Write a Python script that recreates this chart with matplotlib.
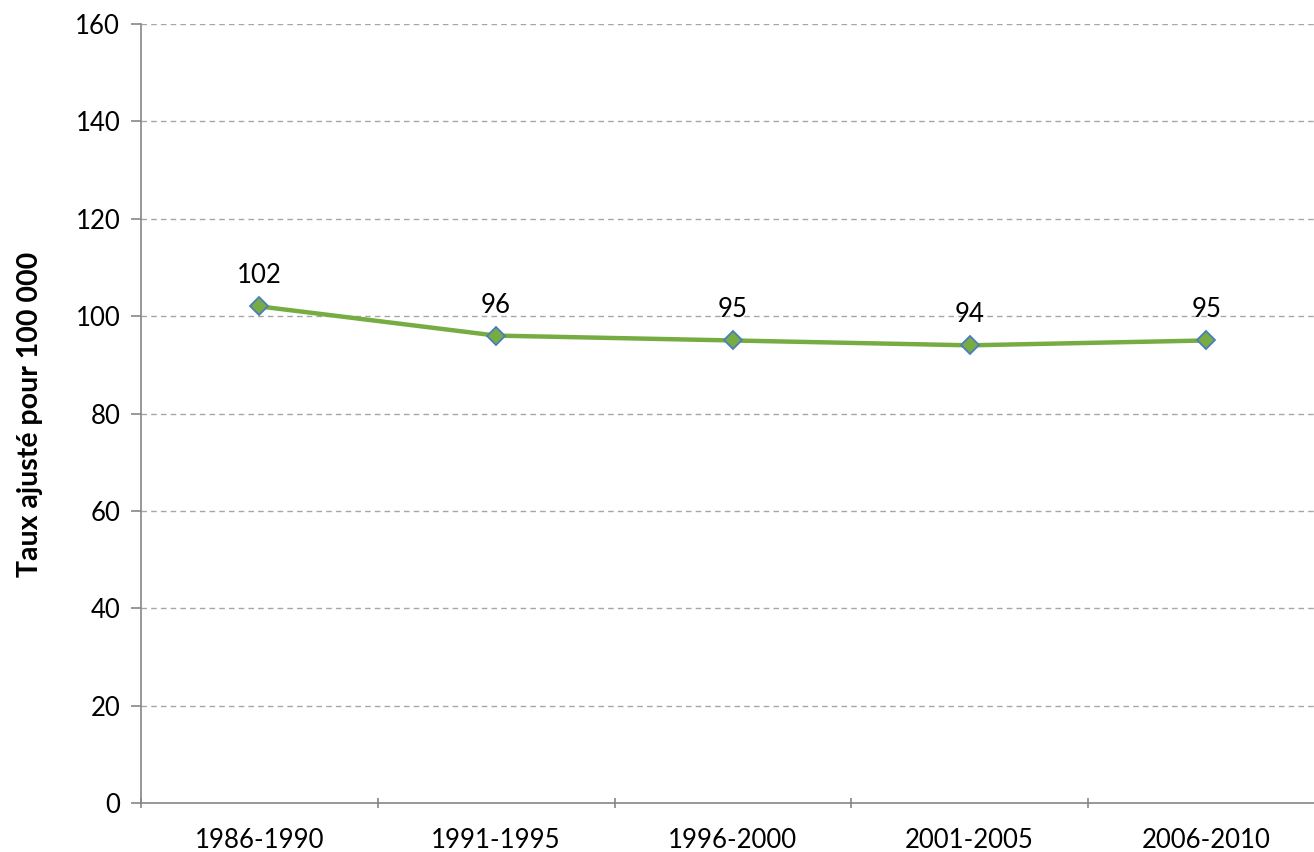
import matplotlib
matplotlib.use("Agg")
import matplotlib.pyplot as plt
import numpy as np

categories = ["1986-1990", "1991-1995", "1996-2000", "2001-2005", "2006-2010"]
values = [102, 96, 95, 94, 95]
yticks = [0, 20, 40, 60, 80, 100, 120, 140, 160]
ylabel = "Taux ajusté pour 100 000"

plt.rcParams['font.family'] = ['Lato', 'DejaVu Sans']

W, H = 1314, 852
fig = plt.figure(figsize=(W / 100, H / 100), dpi=100)
left = 141 / W
bottom = (H - 803) / H
height = (803 - 24) / H
width = 5 * 236.75 / W
ax = fig.add_axes([left, bottom, width, height])

x = np.arange(len(categories))
ax.plot(x, values, color="#77AC43", linewidth=3.2, marker="D", markersize=9.5,
        markerfacecolor="#77AC43", markeredgecolor="#4A7EBB", markeredgewidth=1.3,
        zorder=3, clip_on=False)
for xi, v in zip(x, values):
    ax.annotate(str(v), (xi, v), xytext=(0, 13), textcoords="offset points",
                ha="center", va="bottom", fontsize=18.5, color="black")

ax.set_xlim(-0.5, len(categories) - 0.5)
ax.set_ylim(0, 160)
ax.set_yticks(yticks)
ax.set_yticklabels([str(t) for t in yticks], fontsize=18.5)
ax.set_xticks(x)
ax.set_xticklabels(categories, fontsize=18.5)
ax.set_xticks(np.arange(-0.5, len(categories), 1.0), minor=True)
ax.tick_params(axis="x", which="major", length=0, pad=18)
ax.tick_params(axis="x", which="minor", length=7, direction="inout", color="#868686", width=1.2)
ax.tick_params(axis="y", length=7, direction="out", color="#868686", width=1.2, pad=8)

for y in yticks[1:]:
    ax.axhline(y, color="#A6A6A6", linestyle=(0, (4, 3)), linewidth=1.0, zorder=1)

for s in ["top", "right"]:
    ax.spines[s].set_visible(False)
for s in ["left", "bottom"]:
    ax.spines[s].set_color("#868686")
    ax.spines[s].set_linewidth(1.2)

fig.text(30 / W, (H - 414) / H, ylabel, rotation=90, ha="center", va="center",
         fontsize=20.5, fontweight="bold")

fig.savefig("out.png", dpi=100)
